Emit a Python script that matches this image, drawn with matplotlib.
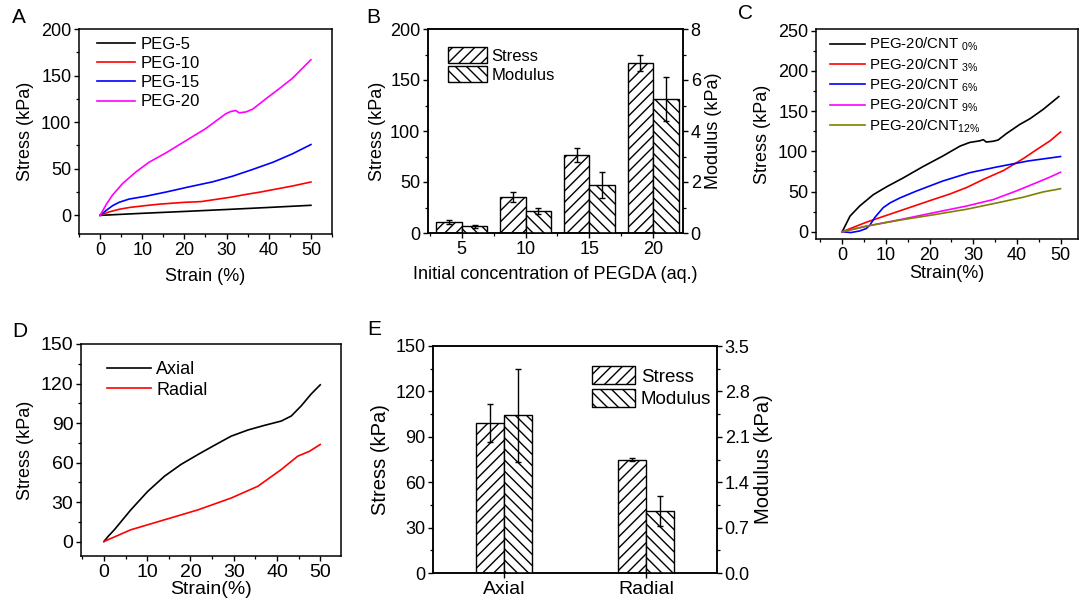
import matplotlib
matplotlib.use("Agg")
import matplotlib.pyplot as plt
from matplotlib.ticker import MultipleLocator
import numpy as np

plt.rcParams['font.family'] = ['Liberation Sans', 'DejaVu Sans']
plt.rcParams['mathtext.fontset'] = 'custom'
plt.rcParams['mathtext.rm'] = 'Liberation Sans'
plt.rcParams['mathtext.it'] = 'Liberation Sans'
plt.rcParams['hatch.linewidth'] = 1.0

# ---------------- Data ----------------
# Panel A
a_labels = ["PEG-5", "PEG-10", "PEG-15", "PEG-20"]
a_x_peg5 = [0, 10, 20, 30, 40, 50]
a_y_peg5 = [0, 2.2, 4.2, 6.3, 8.5, 10.8]
a_x_peg10 = [0, 2, 4.5, 7, 10.8, 14, 17, 20, 22.7, 24, 28, 31, 34.6, 38, 40.9, 45.6, 50]
a_y_peg10 = [0, 3.5, 6.5, 8.5, 10.5, 12, 13, 14, 14.5, 14.8, 17.5, 19.5, 22.5, 25, 27.5, 31.5, 35.8]
a_x_peg15 = [0, 1.5, 3, 4.5, 6.9, 10.8, 15.6, 21, 26.7, 31.4, 36, 41, 45.6, 50]
a_y_peg15 = [0, 5.5, 10.5, 14, 17.5, 20.5, 25, 30.5, 36, 42, 49, 57, 66, 76]
a_x_peg20 = [0, 1.5, 2.9, 5.3, 8.5, 11.6, 15.6, 20.3, 25, 29.8, 31, 32.2, 33, 34.6, 36.2, 39.3, 42.5, 45.6, 50]
a_y_peg20 = [0, 12, 21.5, 34, 46.6, 57, 67, 80, 93, 109, 111.5, 112.5, 110, 111, 114, 125, 136, 147, 167]

# Panel B
b_categories = ["5", "10", "15", "20"]
b_stress = [11, 35.5, 76.5, 167]
b_stress_err = [2, 5, 7, 8]
b_modulus = [0.27, 0.86, 1.88, 5.25]
b_modulus_err = [0.06, 0.11, 0.5, 0.87]

# Panel C
c_labels = [r"PEG-20/CNT $_{0\%}$", r"PEG-20/CNT $_{3\%}$", r"PEG-20/CNT $_{6\%}$",
            r"PEG-20/CNT $_{9\%}$", r"PEG-20/CNT$_{12\%}$"]
c_x_0 = [0, 1.8, 4, 7.1, 10.2, 14, 18.5, 23, 27, 29.2, 31.5, 32.3, 33, 34.6, 35.7, 37.6, 40.7, 43, 46, 49.6]
c_y_0 = [0, 19.5, 32, 46, 56, 67, 81, 94, 106.5, 111, 113, 114.5, 111.5, 112.5, 114, 122, 133.5, 140.5, 152, 168]
c_x_3 = [0, 5.6, 13.2, 17, 20.8, 24.7, 28.5, 32.3, 36.9, 41.5, 44.5, 47.6, 50]
c_y_3 = [0, 12, 26, 33, 40, 47, 55, 65, 76, 91, 102, 113, 124]
c_x_6 = [0, 2, 4, 5.5, 6.3, 7.5, 9.4, 11, 13.2, 17, 23, 29.2, 35.3, 42.6, 50]
c_y_6 = [0, -1, 1, 4, 8, 18, 30, 36, 42, 50.6, 63, 73.4, 80.4, 88, 93.5]
c_x_9 = [0, 5.6, 13.2, 20.8, 28.5, 34.6, 40, 44.5, 47.6, 50]
c_y_9 = [0, 7, 15, 23.5, 32, 40, 51, 61, 68, 74]
c_x_12 = [0, 5.6, 13.2, 20.8, 28.5, 36, 41.5, 46, 50]
c_y_12 = [0, 7, 14.5, 21, 28, 36.5, 43, 49.5, 53.5]

# Panel D
d_labels = ["Axial", "Radial"]
d_x_axial = [0, 1, 2.4, 6.2, 10.1, 14, 17.8, 21.7, 25.5, 29.4, 33.3, 37.1, 41, 43.3, 45.6, 47.9, 50]
d_y_axial = [0, 4, 8.9, 24, 38, 49.6, 58.5, 66, 73, 80, 84.7, 88.2, 91.5, 95.3, 103, 112, 119]
d_x_radial = [0, 6.2, 14, 21.7, 29.4, 35.6, 41, 44.8, 47.5, 50]
d_y_radial = [0, 8.9, 16.5, 24, 33, 42, 54.7, 64.8, 68.5, 73.7]

# Panel E
e_categories = ["Axial", "Radial"]
e_stress = [99, 75]
e_stress_err = [12.5, 0.8]
e_modulus = [2.43, 0.96]
e_modulus_err = [0.72, 0.23]

# ---------------- Figure ----------------
fig = plt.figure(figsize=(10.81, 6.01), dpi=100)
W, H = 1081, 601


def add_ax(l, t, r, b):
    return fig.add_axes([l / W, 1 - b / H, (r - l) / W, (b - t) / H])


TICK = 13
LAB = 13
LEG = 12


def style(ax, right=False):
    for s in ax.spines.values():
        s.set_linewidth(1.1)
    ax.tick_params(which='major', direction='out', length=3.5, width=1, labelsize=TICK, pad=2)
    ax.tick_params(which='minor', direction='out', length=2, width=0.9)
    ax.tick_params(top=False, right=right, which='both')


err_kw = dict(ecolor='black', capsize=2.5, elinewidth=1, capthick=1)

# ---- A ----
axA = add_ax(79, 29, 332, 234)
axA.plot(a_x_peg5, a_y_peg5, color='black', lw=1.2, label=a_labels[0])
axA.plot(a_x_peg10, a_y_peg10, color='#ff0000', lw=1.2, label=a_labels[1])
axA.plot(a_x_peg15, a_y_peg15, color='#0000ff', lw=1.2, label=a_labels[2])
axA.plot(a_x_peg20, a_y_peg20, color='#ff00ff', lw=1.2, label=a_labels[3])
axA.set_xlim(-5, 55)
axA.set_ylim(-20, 200)
axA.set_xticks([0, 10, 20, 30, 40, 50])
axA.set_yticks([0, 50, 100, 150, 200])
axA.xaxis.set_minor_locator(MultipleLocator(5))
axA.yaxis.set_minor_locator(MultipleLocator(25))
style(axA)
axA.set_xlabel("Strain (%)", fontsize=LAB, labelpad=7)
axA.set_ylabel("Stress (kPa)", fontsize=LAB, labelpad=5)
axA.legend(loc='upper left', bbox_to_anchor=(0.03, 1.01), frameon=False, fontsize=LEG,
           handlelength=2.3, handletextpad=0.35, labelspacing=0.25, borderaxespad=0.2)

# ---- B ----
axB = add_ax(428, 29, 683, 233)
axB2 = axB.twinx()
xb = np.arange(len(b_categories))
wb = 0.4
axB.bar(xb - wb / 2, b_stress, wb, yerr=b_stress_err, color='white', edgecolor='black',
        hatch='///', linewidth=1, error_kw=err_kw, label='Stress', zorder=2)
axB2.bar(xb + wb / 2, b_modulus, wb, yerr=b_modulus_err, color='white', edgecolor='black',
         hatch='\\\\\\', linewidth=1, error_kw=err_kw, label='Modulus', zorder=2)
axB.set_xlim(-0.53, 3.47)
axB.set_ylim(0, 200)
axB2.set_ylim(0, 8)
axB.set_xticks(xb)
axB.set_xticklabels(b_categories)
axB.set_yticks([0, 50, 100, 150, 200])
axB.yaxis.set_minor_locator(MultipleLocator(25))
axB.xaxis.set_minor_locator(MultipleLocator(0.5))
axB2.set_yticks([0, 2, 4, 6, 8])
axB2.yaxis.set_minor_locator(MultipleLocator(1))
style(axB)
style(axB2, right=True)
axB2.tick_params(left=False, which='both')
axB.tick_params(axis='x', which='minor', length=2)
axB.set_xlabel("Initial concentration of PEGDA (aq.)", fontsize=LAB, labelpad=6)
axB.set_ylabel("Stress (kPa)", fontsize=LAB, labelpad=3)
axB2.set_ylabel("Modulus (kPa)", fontsize=LAB, labelpad=3)
hB = [axB.patches[0], axB2.patches[0]]
axB2.legend(hB, ['Stress', 'Modulus'], loc='upper left', bbox_to_anchor=(0.04, 0.96),
            frameon=False, fontsize=LEG, handlelength=2.3, handleheight=1.1,
            handletextpad=0.3, labelspacing=0.15, borderaxespad=0.2)

# ---- C ----
axC = add_ax(816, 29, 1078, 239)
c_colors = ['black', '#ff0000', '#0000ff', '#ff00ff', '#808000']
for xs, ys, col, lab in zip([c_x_0, c_x_3, c_x_6, c_x_9, c_x_12],
                            [c_y_0, c_y_3, c_y_6, c_y_9, c_y_12], c_colors, c_labels):
    axC.plot(xs, ys, color=col, lw=1.2, label=lab)
axC.set_xlim(-6, 54)
axC.set_ylim(-9, 252)
axC.set_xticks([0, 10, 20, 30, 40, 50])
axC.set_yticks([0, 50, 100, 150, 200, 250])
axC.xaxis.set_minor_locator(MultipleLocator(5))
axC.yaxis.set_minor_locator(MultipleLocator(25))
style(axC)
axC.set_xlabel("Strain(%)", fontsize=LAB, labelpad=1)
axC.set_ylabel("Stress (kPa)", fontsize=LAB, labelpad=5)
axC.legend(loc='upper left', bbox_to_anchor=(0.02, 1.01), frameon=False, fontsize=10.8,
           handlelength=2.3, handletextpad=0.3, labelspacing=0.2, borderaxespad=0.2)

# ---- D ----
axD = add_ax(81, 344, 341, 556)
axD.plot(d_x_axial, d_y_axial, color='black', lw=1.2, label=d_labels[0])
axD.plot(d_x_radial, d_y_radial, color='#ff0000', lw=1.2, label=d_labels[1])
axD.set_xlim(-5.3, 54.8)
axD.set_ylim(-11, 150)
axD.set_xticks([0, 10, 20, 30, 40, 50])
axD.set_yticks([0, 30, 60, 90, 120, 150])
axD.xaxis.set_minor_locator(MultipleLocator(5))
axD.yaxis.set_minor_locator(MultipleLocator(15))
style(axD)
axD.tick_params(which='major', labelsize=14)
axD.set_xlabel("Strain(%)", fontsize=14, labelpad=0)
axD.set_ylabel("Stress (kPa)", fontsize=LAB, labelpad=5)
axD.legend(loc='upper left', bbox_to_anchor=(0.06, 0.97), frameon=False, fontsize=13,
           handlelength=2.4, handletextpad=0.3, labelspacing=0.2, borderaxespad=0.2)

# ---- E ----
axE = add_ax(433, 346, 717, 573)
axE2 = axE.twinx()
xe = np.arange(len(e_categories))
we = 0.2
axE.bar(xe - we / 2, e_stress, we, yerr=e_stress_err, color='white', edgecolor='black',
        hatch='///', linewidth=1, error_kw=err_kw, label='Stress', zorder=2)
axE2.bar(xe + we / 2, e_modulus, we, yerr=e_modulus_err, color='white', edgecolor='black',
         hatch='\\\\\\', linewidth=1, error_kw=err_kw, label='Modulus', zorder=2)
axE.set_xlim(-0.5, 1.5)
axE.set_ylim(0, 150)
axE2.set_ylim(0, 3.5)
axE.set_xticks(xe)
axE.set_xticklabels(e_categories)
axE.set_yticks([0, 30, 60, 90, 120, 150])
axE.yaxis.set_minor_locator(MultipleLocator(15))
axE2.set_yticks([0.0, 0.7, 1.4, 2.1, 2.8, 3.5])
axE2.set_yticklabels(["0.0", "0.7", "1.4", "2.1", "2.8", "3.5"])
axE2.yaxis.set_minor_locator(MultipleLocator(0.35))
style(axE)
style(axE2, right=True)
axE2.tick_params(left=False, which='both')
axE.tick_params(axis='x', labelsize=14)
axE.set_ylabel("Stress (kPa)", fontsize=14.5, labelpad=4)
axE2.set_ylabel("Modulus (kPa)", fontsize=14.5, labelpad=3)
hE = [axE.patches[0], axE2.patches[0]]
axE2.legend(hE, ['Stress', 'Modulus'], loc='upper left', bbox_to_anchor=(0.52, 0.96),
            frameon=False, fontsize=13.5, handlelength=2.3, handleheight=1.1,
            handletextpad=0.3, labelspacing=0.15, borderaxespad=0.2)

# Panel letters
for lab, x, y in [("A", 12, 8), ("B", 366, 8), ("C", 738, 4), ("D", 12, 322), ("E", 367, 320)]:
    fig.text(x / W, 1 - y / H, lab, fontsize=15, ha='left', va='top')

fig.savefig("out.png", dpi=100)
